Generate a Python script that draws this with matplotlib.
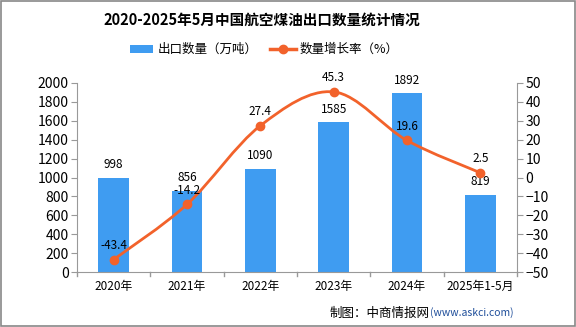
import matplotlib
matplotlib.use("Agg")
import matplotlib.pyplot as plt
from matplotlib.path import Path
from matplotlib.patches import PathPatch, Rectangle
from matplotlib.lines import Line2D
import numpy as np

plt.rcParams['font.family'] = ['Noto Sans CJK SC', 'DejaVu Sans']

categories = ['2020年', '2021年', '2022年', '2023年', '2024年', '2025年1-5月']
export_qty = [998, 856, 1090, 1585, 1892, 819]
growth = [-43.4, -14.2, 27.4, 45.3, 19.6, 2.5]

bar_color = '#3F9CF1'
line_color = '#F2622B'

fig = plt.figure(figsize=(5.76, 3.27), dpi=100)
fig.patches.append(Rectangle((0.002, 0.003), 0.996, 0.994, transform=fig.transFigure,
                             fill=False, edgecolor='#888888', linewidth=1.2))

ax = fig.add_axes([77/576, 1-272/327, (517-77)/576, (272-83)/327])
x = np.arange(len(categories))
ax.bar(x, export_qty, width=0.42, color=bar_color, zorder=2)
ax.set_xlim(-0.5, len(categories)-0.5)
ax.set_ylim(0, 2000)
ax.set_yticks(range(0, 2001, 200))
ax.set_xticks(x)
ax.set_xticklabels(categories, fontsize=8.5)
ax.tick_params(axis='y', labelsize=10, length=4, color='#999999', pad=2)
ax.tick_params(axis='x', length=0, pad=6)
for s in ['top', 'right']:
    ax.spines[s].set_visible(False)
for s in ['left', 'bottom']:
    ax.spines[s].set_color('#999999')
for b in np.arange(-0.5, len(categories)+0.5, 1):
    ax.plot([b, b], [0, -40], color='#999999', lw=1, clip_on=False)

for xi, v in zip(x, export_qty):
    ax.text(xi, v + 70, f'{v}', ha='center', va='bottom', fontsize=8.5, zorder=5)

ax2 = ax.twinx()
ax2.set_ylim(-50, 50)
ax2.set_yticks(range(-50, 51, 10))
ax2.tick_params(axis='y', labelsize=10, length=4, color='#999999', pad=2)
for s in ['top', 'left', 'bottom']:
    ax2.spines[s].set_visible(False)
ax2.spines['right'].set_color('#999999')

px = np.array(x, dtype=float)
py = np.array(growth, dtype=float)
verts = [(px[0], py[0])]
codes = [Path.MOVETO]
n = len(px)
for i in range(n-1):
    p0 = (px[max(i-1, 0)], py[max(i-1, 0)])
    p1 = (px[i], py[i])
    p2 = (px[i+1], py[i+1])
    p3 = (px[min(i+2, n-1)], py[min(i+2, n-1)])
    c1 = (p1[0] + (p2[0]-p0[0])/6, p1[1] + (p2[1]-p0[1])/6)
    c2 = (p2[0] - (p3[0]-p1[0])/6, p2[1] - (p3[1]-p1[1])/6)
    verts += [c1, c2, p2]
    codes += [Path.CURVE4]*3
ax2.add_patch(PathPatch(Path(verts, codes), facecolor='none', edgecolor=line_color, lw=2, zorder=4))
ax2.plot(px, py, 'o', color=line_color, ms=6, zorder=5)
for xi, v in zip(px, py):
    ax2.text(xi, v + 4, f'{v}', ha='center', va='bottom', fontsize=8.5, zorder=6)

fig.text(262/576, 1-20/327, '2020-2025年5月中国航空煤油出口数量统计情况', ha='center', va='center',
         fontsize=10.5, fontweight='bold')
fig.patches.append(Rectangle((130/576, 1-53/327), 23/576, 8/327, transform=fig.transFigure,
                             facecolor=bar_color, edgecolor='none'))
fig.text(158/576, 1-49/327, '出口数量（万吨）', ha='left', va='center', fontsize=9)
fig.lines.append(Line2D([270/576, 296/576], [1-49/327, 1-49/327], transform=fig.transFigure,
                        color=line_color, lw=2.5))
fig.lines.append(Line2D([283/576], [1-49/327], transform=fig.transFigure, marker='o',
                        color=line_color, ms=6))
fig.text(300/576, 1-49/327, '数量增长率（%）', ha='left', va='center', fontsize=9)

url = fig.text(514/576, 1-313/327, '(www.askci.com)', ha='right', va='center', fontsize=7.5,
               color='#1F4E9A')
fig.canvas.draw()
bb = url.get_window_extent()
fig.text(bb.x0/576 - 1/576, 1-313/327, '制图：中商情报网', ha='right', va='center', fontsize=9)

fig.savefig('out.png', dpi=100)
